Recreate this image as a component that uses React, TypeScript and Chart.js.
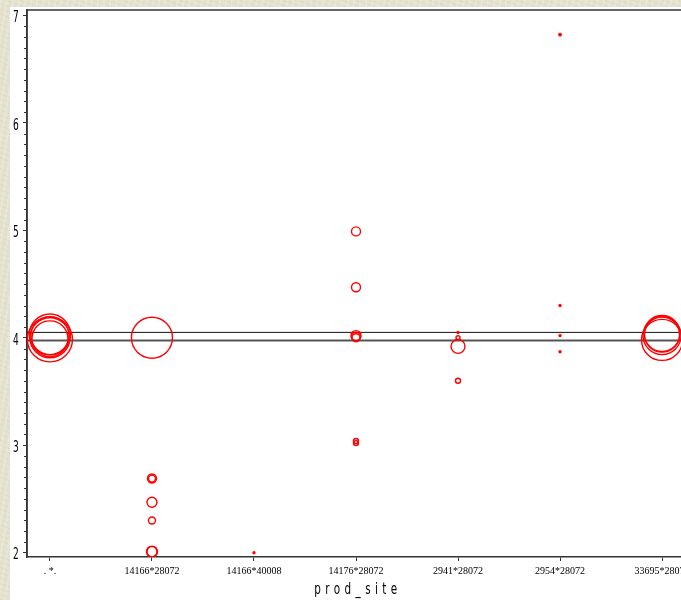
import React, { useEffect, useRef } from "react";
import { Chart, registerables } from "chart.js";

Chart.register(...registerables);

const categories = [". *.", "14166*28072", "14166*40008", "14176*28072", "2941*28072", "2954*28072", "33695*28072"];

// bubble points: category index, value, radius (px)
const pointCategory = [0, 0, 0, 0, 0, 1, 1, 1, 1, 1, 1, 1, 2, 3, 3, 3, 3, 3, 3, 3, 4, 4, 4, 4, 5, 5, 5, 5, 6, 6, 6, 6];
const pointValue = [4.03, 4.02, 4.0, 3.99, 3.985, 4.0, 2.69, 2.69, 2.47, 2.3, 2.01, 2.01, 2.0, 4.99, 4.47, 4.01, 4.0, 4.02, 3.04, 3.02, 4.05, 4.0, 3.92, 3.6, 6.82, 4.3, 4.02, 3.87, 4.04, 4.03, 4.02, 3.98];
const pointSize = [20.5, 19, 20, 18, 22.5, 20.5, 4.5, 3.5, 5, 3.5, 5.5, 5, 1, 4.5, 4.5, 4.5, 4, 5, 2.5, 2.5, 1, 2, 7, 2.5, 1.2, 1, 1, 1, 18, 17.5, 19, 20.5];

const refLines = [4.05, 3.975];
const refColors = ["#111111", "#555555"];
const refWidths = [1, 2];

const yTicks = [2, 3, 4, 5, 6, 7];
const axisTitle = "prod_site";

export default function App() {
  const ref = useRef<HTMLCanvasElement | null>(null);

  useEffect(() => {
    document.body.style.margin = "0";
    document.body.style.overflow = "hidden";
    const canvas = ref.current!;
    canvas.width = 700;
    canvas.height = 593;

    const bubbleData = pointCategory.map((c, i) => ({ x: c, y: pointValue[i], r: pointSize[i] }));

    const extras = {
      id: "extras",
      beforeDraw(chart: any) {
        const ctx = chart.ctx;
        ctx.save();
        ctx.fillStyle = "#ffffff";
        ctx.fillRect(0, 0, chart.width, chart.height);
        ctx.restore();
      },
      beforeDatasetsDraw(chart: any) {
        const ctx = chart.ctx;
        const a = chart.chartArea;
        ctx.save();
        ctx.strokeStyle = "#333333";
        ctx.lineWidth = 1.5;
        ctx.beginPath();
        ctx.moveTo(a.left, a.bottom);
        ctx.lineTo(a.left, a.top);
        ctx.lineTo(a.right, a.top);
        ctx.stroke();
        ctx.restore();
      },
      afterDraw(chart: any) {
        const ctx = chart.ctx;
        const a = chart.chartArea;
        const ys = chart.scales.y;
        ctx.save();
        ctx.strokeStyle = "#333333";
        ctx.lineWidth = 1;
        for (let k = 21; k <= 70; k++) {
          if (k % 10 === 0) continue;
          const y = Math.round(ys.getPixelForValue(k / 10)) + 0.5;
          ctx.beginPath();
          ctx.moveTo(a.left - 3, y);
          ctx.lineTo(a.left, y);
          ctx.stroke();
        }
        // y tick labels, condensed
        ctx.fillStyle = "#000000";
        ctx.font = '16.5px "DejaVu Sans", sans-serif';
        ctx.textAlign = "center";
        ctx.textBaseline = "middle";
        for (const v of yTicks) {
          const y = ys.getPixelForValue(v) + 2.5;
          ctx.save();
          ctx.translate(a.left - 11, y);
          ctx.scale(0.55, 1);
          ctx.fillText(String(v), 0, 0);
          ctx.restore();
        }
        // axis title, condensed + spaced
        ctx.save();
        ctx.font = '16px "DejaVu Sans", sans-serif';
        (ctx as any).letterSpacing = "6.8px";
        ctx.textAlign = "center";
        ctx.textBaseline = "alphabetic";
        ctx.translate((a.left + a.right) / 2 + 2, 587);
        ctx.scale(0.65, 1);
        ctx.fillText(axisTitle, 0, 0);
        ctx.restore();
        ctx.restore();
      },
    };

    const chart = new Chart(canvas, {
      type: "bubble",
      data: {
        datasets: [
          {
            type: "bubble",
            data: bubbleData,
            borderColor: "#ff0000",
            borderWidth: 1.4,
            backgroundColor: (c: any) => (c.raw && c.raw.r <= 1.5 ? "#ff0000" : "rgba(0,0,0,0)"),
            order: 1,
          } as any,
          ...refLines.map((v, i) => ({
            type: "line",
            data: [
              { x: -1, y: v },
              { x: 8, y: v },
            ],
            borderColor: refColors[i],
            borderWidth: refWidths[i],
            pointRadius: 0,
            fill: false,
            order: 2,
          })) as any,
        ],
      },
      plugins: [extras],
      options: {
        responsive: false,
        animation: false,
        events: [],
        layout: { autoPadding: false, padding: { top: 3, right: 25, left: 0, bottom: 0 } },
        plugins: {
          legend: { display: false },
          tooltip: { enabled: false },
          title: { display: false },
        },
        scales: {
          x: {
            type: "linear",
            min: -0.225,
            max: 6.225,
            afterBuildTicks: (s: any) => {
              s.ticks = categories.map((_, i) => ({ value: i }));
            },
            afterFit: (s: any) => {
              s.height = 43;
            },
            ticks: {
              autoSkip: false,
              maxRotation: 0,
              padding: 4,
              color: "#000000",
              font: { family: '"Liberation Serif", serif', size: 10 },
              callback: (v: any) => categories[v] ?? "",
            },
            grid: { drawOnChartArea: false, drawTicks: true, tickLength: 4, color: "#333333" },
            border: { display: true, color: "#333333", width: 1.5 },
          },
          y: {
            type: "linear",
            min: 1.96,
            max: 7.05,
            afterBuildTicks: (s: any) => {
              s.ticks = yTicks.map((v) => ({ value: v }));
            },
            afterFit: (s: any) => {
              s.width = 17;
            },
            ticks: {
              display: false,
            },
            grid: { drawOnChartArea: false, drawTicks: true, tickLength: 4, color: "#333333" },
            border: { display: true, color: "#333333", width: 1.5 },
          },
        },
      } as any,
    });
    return () => chart.destroy();
  }, []);

  return (
    <div
      style={{
        position: "fixed",
        left: 0,
        top: 0,
        width: 681,
        height: 600,
        overflow: "hidden",
        backgroundColor: "#e4e2cf",
        backgroundImage:
          "repeating-linear-gradient(100deg, rgba(255,255,255,0.18) 0px, rgba(255,255,255,0.18) 2px, rgba(0,0,0,0) 2px, rgba(0,0,0,0) 6px), repeating-linear-gradient(20deg, rgba(160,150,110,0.10) 0px, rgba(160,150,110,0.10) 1px, rgba(0,0,0,0) 1px, rgba(0,0,0,0) 5px)",
      }}
    >
      <canvas
        ref={ref}
        style={{ position: "absolute", left: 10, top: 7, width: 700, height: 593, display: "block" }}
      />
    </div>
  );
}
